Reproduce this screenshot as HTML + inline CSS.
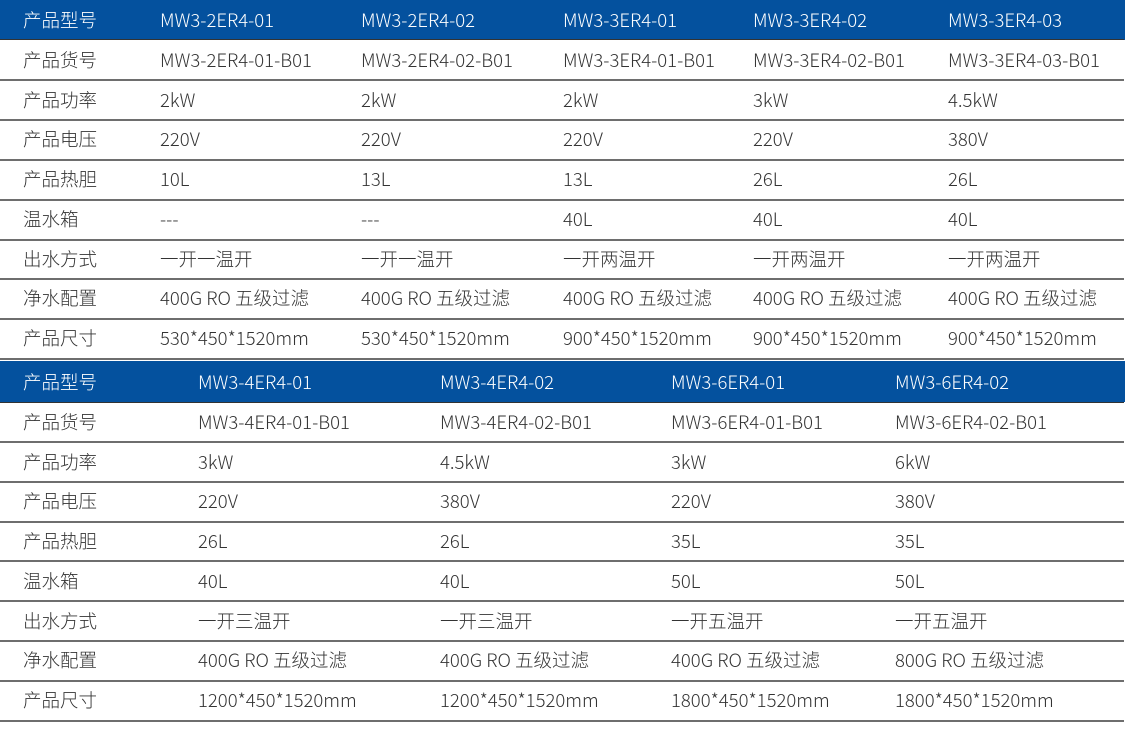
<!DOCTYPE html>
<html><head><meta charset="utf-8">
<style>
html,body{margin:0;padding:0;background:#fff;}
body{width:1125px;height:730px;position:relative;overflow:hidden;
font-family:"Noto Sans CJK SC","Liberation Sans","WenQuanYi Zen Hei",sans-serif;font-size:18.5px;font-weight:300;color:#333;}
.hd{position:absolute;left:0;width:1125px;background:#04519e;color:#fff;}
.row{position:absolute;left:0;width:1125px;height:40px;}
.ln{position:absolute;left:0;width:1124px;height:2px;background:#6e6e6e;}
.c{position:absolute;white-space:nowrap;top:50%;transform:translateY(-50%);line-height:1;}
</style></head><body>

<!-- Table 1 -->
<div class="hd" style="top:0;height:40px;">
<span class="c" style="left:23px">产品型号</span>
<span class="c" style="left:160px">MW3-2ER4-01</span>
<span class="c" style="left:361px">MW3-2ER4-02</span>
<span class="c" style="left:563px">MW3-3ER4-01</span>
<span class="c" style="left:753px">MW3-3ER4-02</span>
<span class="c" style="left:948px">MW3-3ER4-03</span>
</div>
<div class="ln" style="top:39px;background:#333;height:1px"></div>

<div class="row" style="top:40px;height:39.75px">
<span class="c" style="left:23px">产品货号</span>
<span class="c" style="left:160px">MW3-2ER4-01-B01</span>
<span class="c" style="left:361px">MW3-2ER4-02-B01</span>
<span class="c" style="left:563px">MW3-3ER4-01-B01</span>
<span class="c" style="left:753px">MW3-3ER4-02-B01</span>
<span class="c" style="left:948px">MW3-3ER4-03-B01</span>
</div>
<div class="ln" style="top:79px"></div>

<div class="row" style="top:80px;height:39.75px">
<span class="c" style="left:23px">产品功率</span>
<span class="c" style="left:160px">2kW</span>
<span class="c" style="left:361px">2kW</span>
<span class="c" style="left:563px">2kW</span>
<span class="c" style="left:753px">3kW</span>
<span class="c" style="left:948px">4.5kW</span>
</div>
<div class="ln" style="top:119px"></div>

<div class="row" style="top:119.5px;height:39.75px">
<span class="c" style="left:23px">产品电压</span>
<span class="c" style="left:160px">220V</span>
<span class="c" style="left:361px">220V</span>
<span class="c" style="left:563px">220V</span>
<span class="c" style="left:753px">220V</span>
<span class="c" style="left:948px">380V</span>
</div>
<div class="ln" style="top:158.5px"></div>

<div class="row" style="top:159px;height:39.75px">
<span class="c" style="left:23px">产品热胆</span>
<span class="c" style="left:160px">10L</span>
<span class="c" style="left:361px">13L</span>
<span class="c" style="left:563px">13L</span>
<span class="c" style="left:753px">26L</span>
<span class="c" style="left:948px">26L</span>
</div>
<div class="ln" style="top:198.5px"></div>

<div class="row" style="top:199px;height:39.75px">
<span class="c" style="left:23px">温水箱</span>
<span class="c" style="left:160px">---</span>
<span class="c" style="left:361px">---</span>
<span class="c" style="left:563px">40L</span>
<span class="c" style="left:753px">40L</span>
<span class="c" style="left:948px">40L</span>
</div>
<div class="ln" style="top:238.5px"></div>

<div class="row" style="top:239px;height:39.75px">
<span class="c" style="left:23px">出水方式</span>
<span class="c" style="left:160px">一开一温开</span>
<span class="c" style="left:361px">一开一温开</span>
<span class="c" style="left:563px">一开两温开</span>
<span class="c" style="left:753px">一开两温开</span>
<span class="c" style="left:948px">一开两温开</span>
</div>
<div class="ln" style="top:278px"></div>

<div class="row" style="top:278.5px;height:39.75px">
<span class="c" style="left:23px">净水配置</span>
<span class="c" style="left:160px">400G RO 五级过滤</span>
<span class="c" style="left:361px">400G RO 五级过滤</span>
<span class="c" style="left:563px">400G RO 五级过滤</span>
<span class="c" style="left:753px">400G RO 五级过滤</span>
<span class="c" style="left:948px">400G RO 五级过滤</span>
</div>
<div class="ln" style="top:318px"></div>

<div class="row" style="top:318.5px;height:39.75px">
<span class="c" style="left:23px">产品尺寸</span>
<span class="c" style="left:160px">530*450*1520mm</span>
<span class="c" style="left:361px">530*450*1520mm</span>
<span class="c" style="left:563px">900*450*1520mm</span>
<span class="c" style="left:753px">900*450*1520mm</span>
<span class="c" style="left:948px">900*450*1520mm</span>
</div>
<div class="ln" style="top:357.5px"></div>

<!-- Table 2 -->
<div class="hd" style="top:361px;height:41px;">
<span class="c" style="left:23px">产品型号</span>
<span class="c" style="left:198px">MW3-4ER4-01</span>
<span class="c" style="left:440px">MW3-4ER4-02</span>
<span class="c" style="left:671px">MW3-6ER4-01</span>
<span class="c" style="left:895px">MW3-6ER4-02</span>
</div>
<div class="ln" style="top:401.5px;background:#333;height:1px"></div>

<div class="row" style="top:402px;height:39.75px">
<span class="c" style="left:23px">产品货号</span>
<span class="c" style="left:198px">MW3-4ER4-01-B01</span>
<span class="c" style="left:440px">MW3-4ER4-02-B01</span>
<span class="c" style="left:671px">MW3-6ER4-01-B01</span>
<span class="c" style="left:895px">MW3-6ER4-02-B01</span>
</div>
<div class="ln" style="top:441px"></div>

<div class="row" style="top:441.75px;height:39.75px">
<span class="c" style="left:23px">产品功率</span>
<span class="c" style="left:198px">3kW</span>
<span class="c" style="left:440px">4.5kW</span>
<span class="c" style="left:671px">3kW</span>
<span class="c" style="left:895px">6kW</span>
</div>
<div class="ln" style="top:480.75px"></div>

<div class="row" style="top:481.5px;height:39.75px">
<span class="c" style="left:23px">产品电压</span>
<span class="c" style="left:198px">220V</span>
<span class="c" style="left:440px">380V</span>
<span class="c" style="left:671px">220V</span>
<span class="c" style="left:895px">380V</span>
</div>
<div class="ln" style="top:520.5px"></div>

<div class="row" style="top:521.25px;height:39.75px">
<span class="c" style="left:23px">产品热胆</span>
<span class="c" style="left:198px">26L</span>
<span class="c" style="left:440px">26L</span>
<span class="c" style="left:671px">35L</span>
<span class="c" style="left:895px">35L</span>
</div>
<div class="ln" style="top:560.25px"></div>

<div class="row" style="top:561px;height:39.75px">
<span class="c" style="left:23px">温水箱</span>
<span class="c" style="left:198px">40L</span>
<span class="c" style="left:440px">40L</span>
<span class="c" style="left:671px">50L</span>
<span class="c" style="left:895px">50L</span>
</div>
<div class="ln" style="top:600px"></div>

<div class="row" style="top:600.75px;height:39.75px">
<span class="c" style="left:23px">出水方式</span>
<span class="c" style="left:198px">一开三温开</span>
<span class="c" style="left:440px">一开三温开</span>
<span class="c" style="left:671px">一开五温开</span>
<span class="c" style="left:895px">一开五温开</span>
</div>
<div class="ln" style="top:640px"></div>

<div class="row" style="top:640.5px;height:39.75px">
<span class="c" style="left:23px">净水配置</span>
<span class="c" style="left:198px">400G RO 五级过滤</span>
<span class="c" style="left:440px">400G RO 五级过滤</span>
<span class="c" style="left:671px">400G RO 五级过滤</span>
<span class="c" style="left:895px">800G RO 五级过滤</span>
</div>
<div class="ln" style="top:680px"></div>

<div class="row" style="top:680.25px;height:39.75px">
<span class="c" style="left:23px">产品尺寸</span>
<span class="c" style="left:198px">1200*450*1520mm</span>
<span class="c" style="left:440px">1200*450*1520mm</span>
<span class="c" style="left:671px">1800*450*1520mm</span>
<span class="c" style="left:895px">1800*450*1520mm</span>
</div>
<div class="ln" style="top:719.5px"></div>

</body></html>
